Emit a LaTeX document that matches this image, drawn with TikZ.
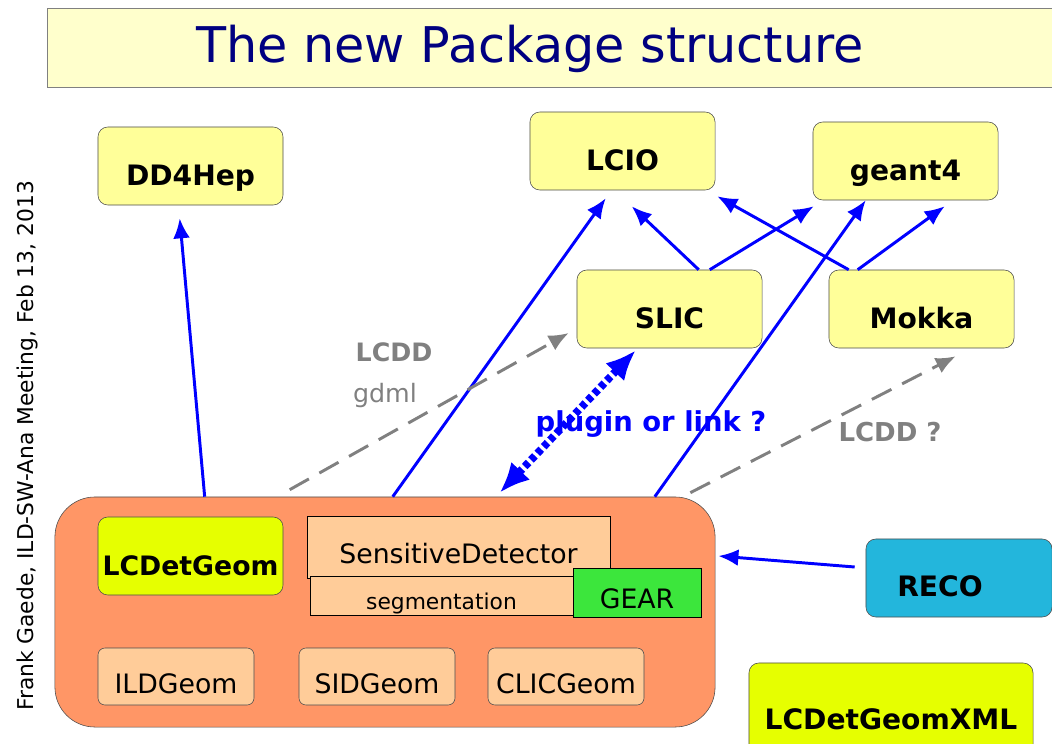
\documentclass[tikz,border=0pt]{standalone}
\usepackage{fontspec}
\setmainfont{DejaVu Sans}
\usetikzlibrary{arrows.meta}

\definecolor{titlefill}{RGB}{255,255,204}
\definecolor{titleblue}{RGB}{0,0,128}
\definecolor{pkgyellow}{RGB}{255,255,153}
\definecolor{geomorange}{RGB}{255,150,102}
\definecolor{peach}{RGB}{255,204,153}
\definecolor{lime}{RGB}{230,255,0}
\definecolor{gearGreen}{RGB}{60,230,60}
\definecolor{recoCyan}{RGB}{35,182,220}

\tikzset{
  pkg/.style={draw=black!70, rounded corners=7pt, fill=pkgyellow, minimum width=4.625cm,
    minimum height=1.95cm, text height=0.96cm, text depth=0pt,
    font=\fontsize{20}{22}\selectfont\bfseries},
  sub/.style={draw=black!70, rounded corners=5pt, fill=peach, minimum width=3.9cm,
    minimum height=1.425cm, inner sep=0pt, text height=0.86cm, text depth=0pt,
    font=\fontsize{19}{21}\selectfont},
  flat/.style={draw=black, fill=peach, inner sep=0pt, text height=0.8cm, text depth=0pt,
    font=\fontsize{19}{21}\selectfont},
  dep/.style={draw=blue, line width=2.1pt, -{Latex[length=0.5cm,width=0.42cm]}},
  xml/.style={draw=black!50, line width=2.1pt, dash pattern=on 0.55cm off 0.3cm,
    -{Latex[length=0.5cm,width=0.42cm]}},
}

\begin{document}
\begin{tikzpicture}[x=0.025cm, y=-0.025cm]
  \useasboundingbox (0,0) rectangle (1052,743);

  % title
  \node[draw=black!50, fill=titlefill, minimum width=25.3cm, minimum height=1.975cm, anchor=north west]
    (titlebg) at (47,8) {};
  \node[text=titleblue, font=\fontsize{35}{40}\selectfont] (title) at (530,49) {The new Package structure};

  \node[rotate=90, font=\fontsize{15.5}{18}\selectfont] (author) at (27,446)
    {Frank Gaede, ILD-SW-Ana Meeting, Feb 13, 2013};

  % external packages
  \foreach \n/\x/\y/\name in {dd/190.5/166/DD4Hep, lcio/622.5/151/LCIO, geant/905.5/161/geant4,
                             slic/669.5/309/SLIC, mokka/921.5/309/Mokka} {
    \node[pkg] (\n) at (\x,\y) {\name};
  }

  % the geometry package
  \node[draw=black!70, fill=geomorange, rounded corners=1cm, minimum width=16.5cm, minimum height=5.75cm]
    (geom) at (385,612) {};
  \node[pkg, fill=lime, inner xsep=0pt, font=\fontsize{19}{21}\selectfont\bfseries] (lcdg) at (190.5,556) {LCDetGeom};
  \node[flat, minimum width=7.575cm, minimum height=1.55cm] (sens) at (458.5,547) {SensitiveDetector};
  \node[flat, minimum width=6.575cm, minimum height=0.975cm, text height=0.7cm,
        font=\fontsize{15.5}{17}\selectfont] (seg) at (441.5,595.5) {segmentation};
  \node[flat, fill=gearGreen, minimum width=3.2cm, minimum height=1.225cm] (gear) at (637,592.5) {GEAR};

  \foreach \n/\x/\name in {ild/176/ILDGeom, sid/377/SIDGeom, clic/566/CLICGeom} {
    \node[sub] (\n) at (\x,676.5) {\name};
  }

  % other packages
  \node[pkg, fill=recoCyan, minimum width=4.65cm, text height=0.9cm] (reco) at (959,578) {\hspace*{-0.95cm}RECO};
  \node[pkg, fill=lime, minimum width=7.1cm, minimum height=2.35cm] (xmlpkg) at (891,710) {LCDetGeomXML};

  % dependencies
  \draw[dep] ([xshift=3.75cm]geom.north west) -- ([xshift=2.05cm,yshift=-0.325cm]dd.south west);
  \draw[dep] ([xshift=8.45cm]geom.north west) -- ([xshift=1.9cm,yshift=-0.2cm]lcio.south west);
  \draw[dep] ([xshift=15cm]geom.north west) -- ([xshift=1.325cm]geant.south west);
  \draw[dep] ([xshift=3.05cm]slic.north west) -- ([xshift=2.55cm,yshift=-0.4cm]lcio.south west);
  \draw[dep] ([xshift=3.325cm]slic.north west) -- ([xshift=0.025cm,yshift=-0.15cm]geant.south west);
  \draw[dep] ([xshift=0.5cm]mokka.north west) -- ([xshift=0.05cm,yshift=-0.15cm]lcio.south east);
  \draw[dep] ([xshift=0.725cm]mokka.north west) -- ([xshift=3.3cm,yshift=-0.15cm]geant.south west);
  \draw[dep] ([xshift=-0.275cm,yshift=0.275cm]reco.west) -- ([xshift=0.075cm,yshift=1.4cm]geom.east);

  % plugin
  \draw[draw=blue, line width=5.5pt, dash pattern=on 4pt off 2.5pt,
        {Latex[length=0.75cm,width=0.65cm]}-{Latex[length=0.75cm,width=0.65cm]}]
    ([xshift=11.125cm,yshift=0.1cm]geom.north west) -- ([xshift=1.475cm,yshift=-0.05cm]slic.south west);

  % LCDD
  \draw[xml] ([xshift=5.875cm,yshift=0.175cm]geom.north west) -- ([xshift=-0.2cm,yshift=-0.6cm]slic.west);
  \draw[xml] ([xshift=-0.625cm,yshift=0.1cm]geom.north east) -- ([xshift=3.175cm,yshift=-0.2cm]mokka.south west);

  % labels
  \node[text=black!50, font=\fontsize{18}{20}\selectfont\bfseries] (lcddlbl) at (394,352) {LCDD};
  \node[text=black!50, font=\fontsize{18}{20}\selectfont] (gdmllbl) at (385,396) {gdml};
  \node[text=black!50, font=\fontsize{18.5}{20}\selectfont\bfseries] (lcddq) at (890,432) {LCDD ?};
  \node[text=blue, font=\fontsize{19.5}{22}\selectfont\bfseries] (pluginlbl) at (651,424) {plugin or link ?};
\end{tikzpicture}
\end{document}
